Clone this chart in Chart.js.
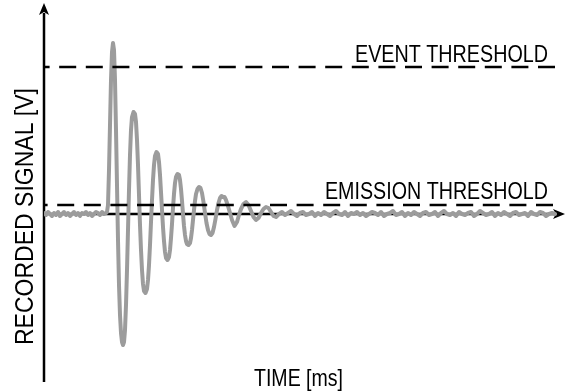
<!DOCTYPE html>
<html><head><meta charset="utf-8">
<script src="https://cdn.jsdelivr.net/npm/chart.js@4"></script>
<style>html,body{margin:0;padding:0;background:#fff;}canvas{display:block;}</style>
</head><body>
<canvas id="c" width="566" height="391"></canvas>
<script>
// [time, signal] samples (arbitrary units)
const preBurst = [[0,1],[2,-1],[4,2],[6,0],[8,-2],[10,1],[12,-1],[14,2],[16,-2],[18,0],[20,2],[22,-1],[24,1],[26,-2],[28,0],[30,2],[32,-1],[34,1],[36,-2],[38,1],[40,0],[42,2],[44,-1],[46,1],[48,-2],[50,0],[52,2],[54,1],[56,-1],[58,2],[60,0],[62,1]];
const burst = [[63,2],[64,9],[65,44],[66,89],[67,134],[68,162],[69,171],[70,164],[71,134],[72,84],[73,29],[74,-26],[75,-71],[76,-101],[77,-119],[78,-128],[79,-131],[80,-128],[81,-116],[82,-91],[83,-56],[84,-16],[85,24],[86,59],[87,84],[88,97],[89.5,102],[91,100],[92,92],[93,74],[94,49],[95,19],[96,-11],[97,-36],[98,-56],[99,-70],[100,-77],[101.5,-79],[103,-75],[104,-66],[105,-51],[106,-31],[107,-8],[108,14],[109,34],[110,49],[111,58],[112.5,62],[114,60],[115,52],[116,39],[117,22],[118,4],[119,-13],[120,-27],[121,-38],[122,-44],[123.5,-46],[125,-43],[126,-36],[127,-24],[128,-10],[129,6],[130,20],[131,31],[132,37],[133.5,40],[135,39],[136,34],[137,25],[138,13],[139,0],[140,-12],[141,-21],[142,-27],[143,-30],[144.5,-31],[146,-29],[147,-24],[148,-16],[149,-6],[150,4],[151,13],[152,20],[153.5,25],[155,27],[156.5,26],[158,21],[159.5,12],[161,1],[162.5,-9],[164,-16],[165.5,-20],[167,-21],[168.5,-19],[170,-13],[171.5,-5],[173,4],[174.5,11],[176,16],[177.5,18],[179,17],[180.5,17],[182,14],[184,8],[186,1],[188,-6],[190.5,-12],[193,-8],[195,-1],[197,5],[199.5,10],[202,12],[204.5,9],[207,3],[209.5,-3],[212,-6],[214.5,-4],[217,1],[219.5,5],[222,7],[224.5,6],[227,2],[229.5,-2],[232,-3]];
const tail = [[235,0],[238,2],[241,-1],[244,1],[247,3],[250,0],[253,-2],[256,1],[259,2],[262,-1],[265,0],[268,2],[271,-2],[274,1],[277,-1],[280,2],[283,0],[286,-2],[289,1],[292,3],[295,0],[298,-1],[301,2],[304,-2],[307,1],[310,0],[313,2],[316,-1],[319,1],[322,-2],[325,0],[328,2],[331,1],[334,-1],[337,2],[340,-2],[343,0],[346,1],[349,3],[352,-1],[355,0],[358,2],[361,-2],[364,1],[367,-1],[370,2],[373,0],[376,-2],[379,1],[382,2],[385,-1],[388,0],[391,2],[394,-2],[397,1],[400,3],[403,0],[406,-1],[409,1],[412,-2],[415,2],[418,0],[421,-1],[424,1],[427,2],[430,-2],[433,0],[436,3],[439,1],[442,-1],[445,0],[448,2],[451,-2],[454,1],[457,-1],[460,2],[463,0],[466,-2],[469,1],[472,2],[475,-1],[478,0],[481,1],[484,-2],[487,2],[490,0],[493,-1],[496,2],[499,1],[502,-2],[505,0],[508,1],[511,0]];

const eventThreshold = 147;
const emissionThreshold = 9;
const eventSpan = [511, 1];
const emissionSpan = [509, 1];

const labelEvent = 'EVENT THRESHOLD';
const labelEmission = 'EMISSION THRESHOLD';
const labelX = 'TIME [ms]';
const labelY = 'RECORDED SIGNAL [V]';

const toPts = a => a.map(p => ({x: p[0], y: p[1]}));
const signal = toPts(preBurst.concat(burst, tail));
const hLine = (span, v) => span.map(t => ({x: t, y: v}));

const FONT = '"Liberation Sans Narrow", "Liberation Sans", Arial, sans-serif';

function fitText(ctx, text, x, y, size, targetW, align, rot) {
  ctx.save();
  ctx.font = size + 'px ' + FONT;
  const w = ctx.measureText(text).width;
  const s = targetW / w;
  ctx.translate(x, y);
  if (rot) ctx.rotate(rot);
  ctx.scale(s, 1);
  ctx.textAlign = align;
  ctx.textBaseline = 'alphabetic';
  ctx.fillStyle = '#000';
  ctx.fillText(text, 0, 0);
  ctx.restore();
}

function arrow(ctx, tx, ty, dx, dy) {
  // dx,dy unit direction pointing to the tip
  const L = 12, W = 5, N = 9;
  const px = -dy, py = dx;
  ctx.beginPath();
  ctx.moveTo(tx, ty);
  ctx.lineTo(tx - dx*L + px*W, ty - dy*L + py*W);
  ctx.lineTo(tx - dx*N, ty - dy*N);
  ctx.lineTo(tx - dx*L - px*W, ty - dy*L - py*W);
  ctx.closePath();
  ctx.fill();
}

const axesPlugin = {
  id: 'axesArrows',
  beforeDatasetsDraw(chart) {
    const ctx = chart.ctx, xs = chart.scales.x, ys = chart.scales.y;
    const x0 = xs.getPixelForValue(0), y0 = ys.getPixelForValue(0);
    const top = chart.chartArea.top, bottom = chart.chartArea.bottom, right = chart.chartArea.right;
    ctx.save();
    ctx.strokeStyle = '#000'; ctx.fillStyle = '#000'; ctx.lineWidth = 2.5;
    ctx.beginPath();
    ctx.moveTo(x0, bottom); ctx.lineTo(x0, top + 8);
    ctx.moveTo(x0, y0); ctx.lineTo(right - 8, y0);
    ctx.stroke();
    arrow(ctx, x0, top - 2, 0, -1);
    arrow(ctx, right, y0, 1, 0);
    ctx.restore();
  },
  afterDatasetsDraw(chart) {
    const ctx = chart.ctx, ys = chart.scales.y;
    const yEv = ys.getPixelForValue(eventThreshold);
    const yEm = ys.getPixelForValue(emissionThreshold);
    fitText(ctx, labelEvent, 548, yEv - 5, 24, 193, 'right');
    fitText(ctx, labelEmission, 548, yEm - 6, 24, 223, 'right');
    fitText(ctx, labelX, 298.5, 386, 24, 89, 'center');
    fitText(ctx, labelY, 33, 216.5, 26, 257, 'center', -Math.PI/2);
  }
};

new Chart(document.getElementById('c'), {
  type: 'scatter',
  data: {
    datasets: [
      {data: hLine(eventSpan, eventThreshold), showLine: true, borderColor: '#000', borderWidth: 2.5, borderDash: [17, 9.6], pointRadius: 0},
      {data: hLine(emissionSpan, emissionThreshold), showLine: true, borderColor: '#000', borderWidth: 2.5, borderDash: [17, 9.6], pointRadius: 0},
      {data: signal, showLine: true, borderColor: '#9c9c9c', borderWidth: 4, pointRadius: 0, tension: 0, borderJoinStyle: 'round', borderCapStyle: 'round'}
    ]
  },
  options: {
    responsive: false,
    animation: false,
    devicePixelRatio: 1,
    layout: {padding: {left: 44, right: 1, top: 5, bottom: 9}},
    plugins: {legend: {display: false}, tooltip: {enabled: false}},
    scales: {
      x: {type: 'linear', min: 0, max: 521, display: false},
      y: {type: 'linear', min: -168, max: 209, display: false}
    }
  },
  plugins: [axesPlugin]
});
</script>
</body></html>
